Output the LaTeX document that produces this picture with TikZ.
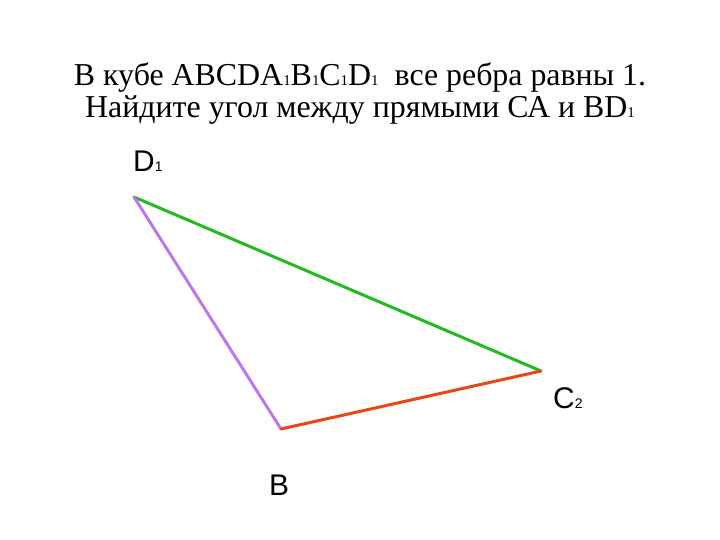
\documentclass[tikz,border=0pt]{standalone}
\usepackage{fontspec}
\setmainfont{Liberation Serif}
\newfontfamily\arialfont{Liberation Sans}
\definecolor{lgreen}{RGB}{34,187,34}
\definecolor{lpurple}{RGB}{190,120,235}
\definecolor{lred}{RGB}{235,70,20}
\newcommand{\tsub}[1]{{\fontsize{15}{15}\selectfont #1}}
\newcommand{\lsub}[1]{{\fontsize{14}{14}\selectfont #1}}
\begin{document}
\begin{tikzpicture}[x=1bp,y=-1bp,
  edge/.style={line width=3bp,line cap=round},
  title/.style={font=\fontsize{32}{33}\selectfont, align=center, inner sep=0pt},
  lbl/.style={font=\arialfont\fontsize{30}{30}\selectfont, inner sep=0pt, anchor=base west}]
\useasboundingbox (0,0) rectangle (720,540);
\fill[white] (0,0) rectangle (720,540);
\node[title, anchor=base] (t1) at (360,86) {В кубе ABCDA\tsub{1}B\tsub{1}C\tsub{1}D\tsub{1}\ \ все ребра равны 1.};
\node[title, anchor=base] (t2) at (360,118) {Найдите угол между прямыми СА и BD\tsub{1}};
\coordinate (D1) at (134,197);
\coordinate (C2) at (541,371);
\coordinate (B) at (281,429);
\draw[edge, lgreen] (D1) -- (C2);
\draw[edge, lpurple] (D1) -- (B);
\draw[edge, lred] (B) -- (C2);
\node[lbl] (lD) at (133,172) {D\lsub{1}};
\node[lbl] (lC) at (553,408) {C\lsub{2}};
\node[lbl] (lB) at (269,495) {B};
\end{tikzpicture}
\end{document}
